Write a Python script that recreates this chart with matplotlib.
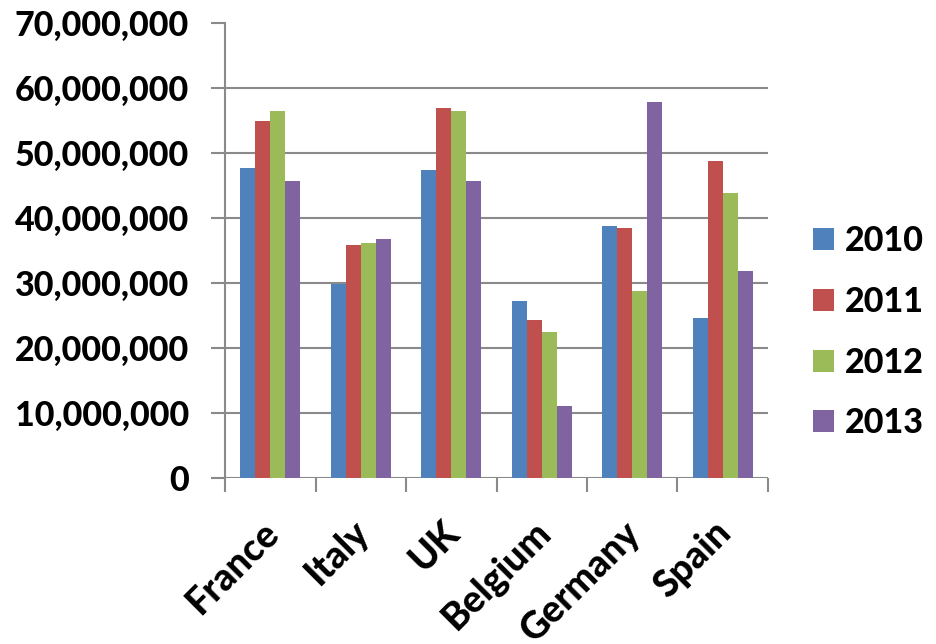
import matplotlib
matplotlib.use("Agg")
import matplotlib.pyplot as plt
import numpy as np
from matplotlib.ticker import FuncFormatter

plt.rcParams['font.family'] = ['Lato', 'DejaVu Sans']
plt.rcParams['font.weight'] = 'black'

# data
countries = ["France", "Italy", "UK", "Belgium", "Germany", "Spain"]
years = ["2010", "2011", "2012", "2013"]
v2010 = [47.7e6, 29.9e6, 47.4e6, 27.2e6, 38.7e6, 24.6e6]
v2011 = [54.9e6, 35.8e6, 56.9e6, 24.3e6, 38.5e6, 48.8e6]
v2012 = [56.4e6, 36.2e6, 56.4e6, 22.5e6, 28.8e6, 43.8e6]
v2013 = [45.7e6, 36.7e6, 45.7e6, 11.1e6, 57.9e6, 31.8e6]
colors = ["#4f81bd", "#c0504d", "#9bbb59", "#8064a2"]

fig = plt.figure(figsize=(9.36, 6.44), dpi=100)
ax = fig.add_axes([0.2404, 0.2578, 0.5801, 0.7065])

x = np.arange(len(countries))
w = 0.166
for i, vals in enumerate([v2010, v2011, v2012, v2013]):
    ax.bar(x + (i - 1.5) * w, vals, width=w, color=colors[i], label=years[i], zorder=3)

ax.set_xlim(-0.5, len(countries) - 0.5)
ax.set_ylim(0, 70e6)
ax.set_yticks(np.arange(0, 70e6 + 1, 10e6))
ax.yaxis.set_major_formatter(FuncFormatter(lambda v, p: f"{int(v):,}"))

# gridlines (none at the top)
for yv in np.arange(0, 60e6 + 1, 10e6):
    ax.axhline(yv, color="#8a8a8a", lw=1.5, zorder=1)

ax.set_xticks(np.arange(-0.5, len(countries)))
ax.set_xticklabels([])
for i, c in enumerate(countries):
    ax.text(i - 0.1, -5.7e6, c, rotation=45, ha="right", va="top",
            fontsize=27, fontweight="black", rotation_mode="anchor")

for s in ["top", "right", "bottom"]:
    ax.spines[s].set_visible(False)
ax.spines["left"].set_color("#8a8a8a")
ax.spines["left"].set_linewidth(1.5)
ax.tick_params(axis="both", color="#8a8a8a", width=1.5, length=10)
ax.tick_params(axis="y", labelsize=24.5, pad=16)

leg = fig.legend(loc="center left", bbox_to_anchor=(0.836, 0.484), frameon=False,
                 fontsize=24.5, handlelength=0.62, handleheight=0.62,
                 labelspacing=0.84, handletextpad=0.3)

fig.savefig("out.png", dpi=100)
